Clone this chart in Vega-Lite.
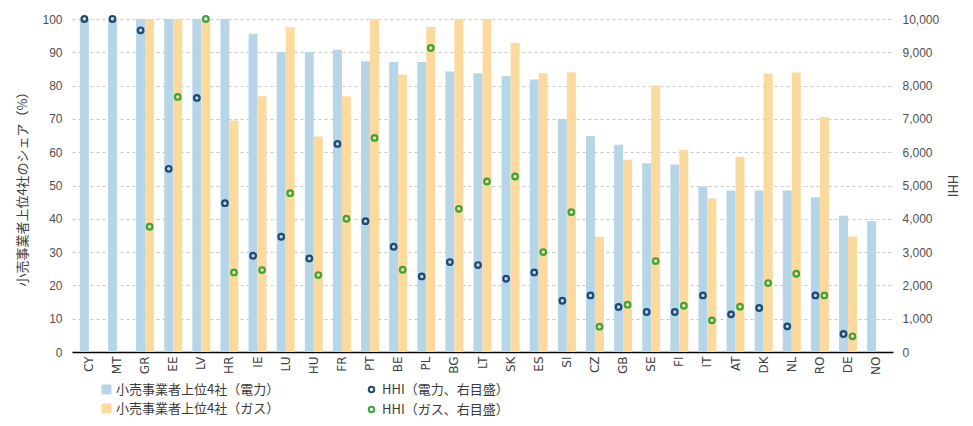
{
  "$schema": "https://vega.github.io/schema/vega-lite/v6.json",
  "width": 821,
  "height": 333,
  "autosize": {"type": "none"},
  "padding": {"left": 72, "top": 19, "right": 80, "bottom": 74},
  "background": "white",
  "config": {
    "font": "Noto Sans CJK JP",
    "view": {"stroke": null},
    "axis": {"labelFontSize": 12, "labelColor": "#505050", "titleFont": "Noto Sans CJK JP", "titleFontSize": 13, "titleFontWeight": "normal", "titleColor": "#404040"},
    "axisY": {"labelFont": "Liberation Sans"},
    "legend": {"labelFont": "Noto Sans CJK JP", "labelFontSize": 13, "labelColor": "#3a3a3a", "labelLimit": 400}
  },
  "data": {
    "values": [
      {"country": "CY", "type": "電力", "hhiType": "HHI（電力、右目盛）", "share": 100, "hhi": 10000},
      {"country": "MT", "type": "電力", "hhiType": "HHI（電力、右目盛）", "share": 100, "hhi": 10000},
      {"country": "GR", "type": "電力", "hhiType": "HHI（電力、右目盛）", "share": 100, "hhi": 9660},
      {"country": "GR", "type": "ガス", "hhiType": "HHI（ガス、右目盛）", "share": 100, "hhi": 3760},
      {"country": "EE", "type": "電力", "hhiType": "HHI（電力、右目盛）", "share": 100, "hhi": 5500},
      {"country": "EE", "type": "ガス", "hhiType": "HHI（ガス、右目盛）", "share": 100, "hhi": 7660},
      {"country": "LV", "type": "電力", "hhiType": "HHI（電力、右目盛）", "share": 100, "hhi": 7630},
      {"country": "LV", "type": "ガス", "hhiType": "HHI（ガス、右目盛）", "share": 100, "hhi": 10000},
      {"country": "HR", "type": "電力", "hhiType": "HHI（電力、右目盛）", "share": 100, "hhi": 4470},
      {"country": "HR", "type": "ガス", "hhiType": "HHI（ガス、右目盛）", "share": 69.5, "hhi": 2390},
      {"country": "IE", "type": "電力", "hhiType": "HHI（電力、右目盛）", "share": 95.6, "hhi": 2890},
      {"country": "IE", "type": "ガス", "hhiType": "HHI（ガス、右目盛）", "share": 76.8, "hhi": 2460},
      {"country": "LU", "type": "電力", "hhiType": "HHI（電力、右目盛）", "share": 90.1, "hhi": 3460},
      {"country": "LU", "type": "ガス", "hhiType": "HHI（ガス、右目盛）", "share": 97.5, "hhi": 4770},
      {"country": "HU", "type": "電力", "hhiType": "HHI（電力、右目盛）", "share": 90.1, "hhi": 2810},
      {"country": "HU", "type": "ガス", "hhiType": "HHI（ガス、右目盛）", "share": 64.7, "hhi": 2310},
      {"country": "FR", "type": "電力", "hhiType": "HHI（電力、右目盛）", "share": 90.8, "hhi": 6250},
      {"country": "FR", "type": "ガス", "hhiType": "HHI（ガス、右目盛）", "share": 76.8, "hhi": 4000},
      {"country": "PT", "type": "電力", "hhiType": "HHI（電力、右目盛）", "share": 87.3, "hhi": 3930},
      {"country": "PT", "type": "ガス", "hhiType": "HHI（ガス、右目盛）", "share": 100, "hhi": 6430},
      {"country": "BE", "type": "電力", "hhiType": "HHI（電力、右目盛）", "share": 87.1, "hhi": 3160},
      {"country": "BE", "type": "ガス", "hhiType": "HHI（ガス、右目盛）", "share": 83.3, "hhi": 2470},
      {"country": "PL", "type": "電力", "hhiType": "HHI（電力、右目盛）", "share": 87.1, "hhi": 2270},
      {"country": "PL", "type": "ガス", "hhiType": "HHI（ガス、右目盛）", "share": 97.6, "hhi": 9130},
      {"country": "BG", "type": "電力", "hhiType": "HHI（電力、右目盛）", "share": 84.2, "hhi": 2700},
      {"country": "BG", "type": "ガス", "hhiType": "HHI（ガス、右目盛）", "share": 100, "hhi": 4300},
      {"country": "LT", "type": "電力", "hhiType": "HHI（電力、右目盛）", "share": 83.7, "hhi": 2610},
      {"country": "LT", "type": "ガス", "hhiType": "HHI（ガス、右目盛）", "share": 100, "hhi": 5120},
      {"country": "SK", "type": "電力", "hhiType": "HHI（電力、右目盛）", "share": 82.9, "hhi": 2200},
      {"country": "SK", "type": "ガス", "hhiType": "HHI（ガス、右目盛）", "share": 92.8, "hhi": 5270},
      {"country": "ES", "type": "電力", "hhiType": "HHI（電力、右目盛）", "share": 81.8, "hhi": 2390},
      {"country": "ES", "type": "ガス", "hhiType": "HHI（ガス、右目盛）", "share": 83.7, "hhi": 3000},
      {"country": "SI", "type": "電力", "hhiType": "HHI（電力、右目盛）", "share": 70.0, "hhi": 1540},
      {"country": "SI", "type": "ガス", "hhiType": "HHI（ガス、右目盛）", "share": 84.0, "hhi": 4200},
      {"country": "CZ", "type": "電力", "hhiType": "HHI（電力、右目盛）", "share": 64.9, "hhi": 1700},
      {"country": "CZ", "type": "ガス", "hhiType": "HHI（ガス、右目盛）", "share": 34.6, "hhi": 760},
      {"country": "GB", "type": "電力", "hhiType": "HHI（電力、右目盛）", "share": 62.2, "hhi": 1350},
      {"country": "GB", "type": "ガス", "hhiType": "HHI（ガス、右目盛）", "share": 57.7, "hhi": 1420},
      {"country": "SE", "type": "電力", "hhiType": "HHI（電力、右目盛）", "share": 56.7, "hhi": 1200},
      {"country": "SE", "type": "ガス", "hhiType": "HHI（ガス、右目盛）", "share": 80.0, "hhi": 2730},
      {"country": "FI", "type": "電力", "hhiType": "HHI（電力、右目盛）", "share": 56.3, "hhi": 1200},
      {"country": "FI", "type": "ガス", "hhiType": "HHI（ガス、右目盛）", "share": 60.7, "hhi": 1390},
      {"country": "IT", "type": "電力", "hhiType": "HHI（電力、右目盛）", "share": 49.7, "hhi": 1700},
      {"country": "IT", "type": "ガス", "hhiType": "HHI（ガス、右目盛）", "share": 46.1, "hhi": 950},
      {"country": "AT", "type": "電力", "hhiType": "HHI（電力、右目盛）", "share": 48.5, "hhi": 1130},
      {"country": "AT", "type": "ガス", "hhiType": "HHI（ガス、右目盛）", "share": 58.6, "hhi": 1360},
      {"country": "DK", "type": "電力", "hhiType": "HHI（電力、右目盛）", "share": 48.5, "hhi": 1320},
      {"country": "DK", "type": "ガス", "hhiType": "HHI（ガス、右目盛）", "share": 83.6, "hhi": 2070},
      {"country": "NL", "type": "電力", "hhiType": "HHI（電力、右目盛）", "share": 48.5, "hhi": 770},
      {"country": "NL", "type": "ガス", "hhiType": "HHI（ガス、右目盛）", "share": 83.9, "hhi": 2350},
      {"country": "RO", "type": "電力", "hhiType": "HHI（電力、右目盛）", "share": 46.5, "hhi": 1700},
      {"country": "RO", "type": "ガス", "hhiType": "HHI（ガス、右目盛）", "share": 70.6, "hhi": 1700},
      {"country": "DE", "type": "電力", "hhiType": "HHI（電力、右目盛）", "share": 40.9, "hhi": 540},
      {"country": "DE", "type": "ガス", "hhiType": "HHI（ガス、右目盛）", "share": 34.7, "hhi": 470},
      {"country": "NO", "type": "電力", "hhiType": "HHI（電力、右目盛）", "share": 39.3, "hhi": null}
    ]
  },
  "layer": [
    {
      "mark": {"type": "bar"},
      "encoding": {
        "x": {
          "field": "country",
          "type": "nominal",
          "sort": null,
          "scale": {"paddingInner": 0.36, "paddingOuter": 0.28},
          "axis": {"title": null, "labelAngle": -90, "labelFont": "DejaVu Sans", "ticks": false, "labelPadding": 4, "domainColor": "#000000", "domainWidth": 1.5, "grid": false, "labelColor": "#404040", "labelFontSize": 12}
        },
        "xOffset": {"field": "type", "type": "nominal", "sort": ["電力", "ガス"], "scale": {"domain": ["電力", "ガス"], "paddingInner": 0}},
        "y": {
          "field": "share",
          "type": "quantitative",
          "scale": {"domain": [0, 100]},
          "axis": {"orient": "left", "title": "小売事業者上位4社のシェア（%）", "values": [0, 10, 20, 30, 40, 50, 60, 70, 80, 90, 100], "grid": true, "gridDash": [3, 3], "gridColor": "#c8c8c8", "domain": false, "ticks": false, "labelPadding": 10, "titlePadding": 12}
        },
        "color": {
          "field": "type",
          "type": "nominal",
          "scale": {"domain": ["電力", "ガス"], "range": ["#B6D6E8", "#FCDA9E"]},
          "legend": {"title": null, "orient": "none", "legendX": 28, "legendY": 364, "direction": "vertical", "symbolType": "square", "symbolSize": 100, "padding": 0, "rowPadding": 5, "labelOffset": 3, "labelExpr": "datum.label == '電力' ? '小売事業者上位4社（電力）' : '小売事業者上位4社（ガス）'"}
        }
      }
    },
    {
      "mark": {"type": "point", "filled": false, "strokeWidth": 2.2, "size": 32, "opacity": 1},
      "encoding": {
        "x": {"field": "country", "type": "nominal", "sort": null},
        "xOffset": {"field": "type", "type": "nominal", "sort": ["電力", "ガス"]},
        "y": {
          "field": "hhi",
          "type": "quantitative",
          "scale": {"domain": [0, 10000]},
          "axis": {"orient": "right", "title": "HHI", "format": ",.0f", "values": [0, 1000, 2000, 3000, 4000, 5000, 6000, 7000, 8000, 9000, 10000], "grid": false, "domain": false, "ticks": false, "labelPadding": 9, "titlePadding": 6}
        },
        "stroke": {
          "field": "hhiType",
          "type": "nominal",
          "scale": {"domain": ["HHI（電力、右目盛）", "HHI（ガス、右目盛）"], "range": ["#1B4A72", "#3DA43D"]},
          "legend": {"title": null, "orient": "none", "legendX": 293, "legendY": 364, "direction": "vertical", "symbolType": "circle", "symbolSize": 30, "symbolStrokeWidth": 2, "padding": 0, "rowPadding": 5, "labelOffset": 4}
        }
      }
    }
  ],
  "resolve": {"scale": {"y": "independent"}}
}
